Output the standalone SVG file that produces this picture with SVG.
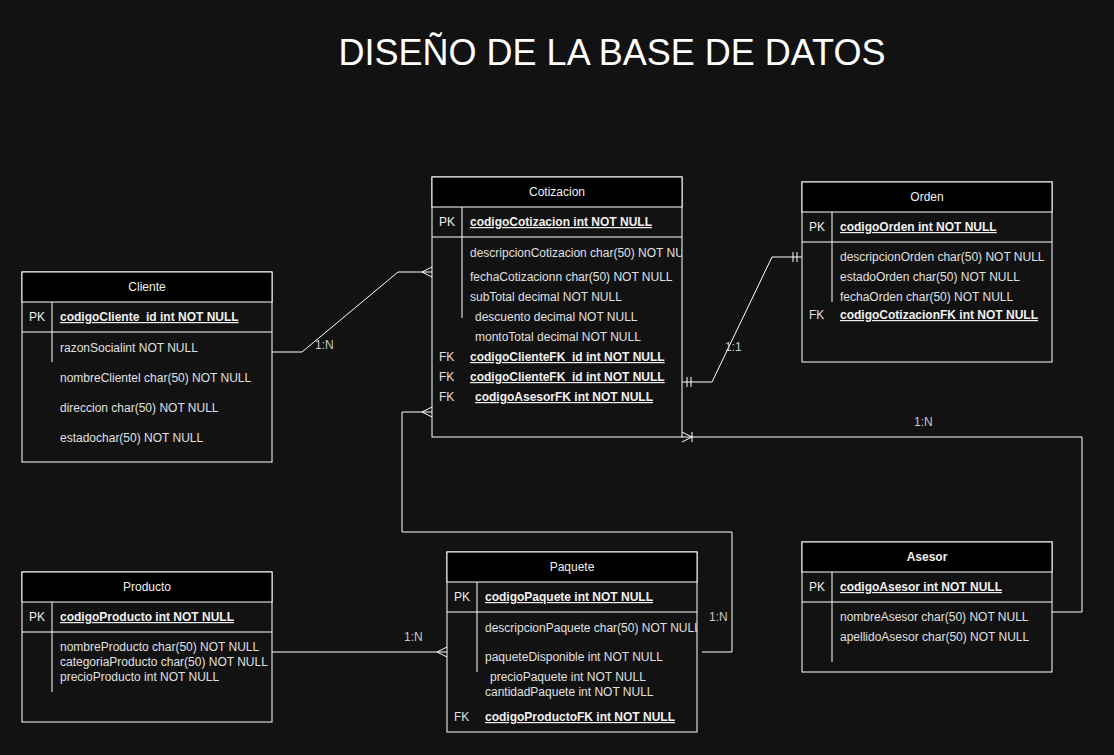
<svg xmlns="http://www.w3.org/2000/svg" width="1114" height="755" viewBox="0 0 1114 755">
<defs>
<style>
.bg{fill:#121212}
.box{fill:#121212;stroke:#ffffff;stroke-width:1}
.hdr{fill:#000000;stroke:#ffffff;stroke-width:1}
.ln{stroke:#ffffff;stroke-width:1;fill:none}
.t{font-family:"Liberation Sans",Arial,sans-serif;font-size:12px;fill:#e0e0e0}
.h{font-family:"Liberation Sans",Arial,sans-serif;font-size:12px;fill:#f0f0f0;text-anchor:middle}
.k{font-family:"Liberation Sans",Arial,sans-serif;font-size:12px;fill:#f0f0f0;font-weight:bold;text-decoration:underline}
.lbl{font-family:"Liberation Sans",Arial,sans-serif;font-size:12px;fill:#c8c8c8}
.title{font-family:"Liberation Sans",Arial,sans-serif;font-size:36px;fill:#ffffff;text-anchor:middle}
</style>
<clipPath id="clipCot"><rect x="432" y="237" width="250" height="200"/></clipPath>
<clipPath id="clipPaq"><rect x="447" y="612" width="250" height="120"/></clipPath>
</defs>
<rect class="bg" x="0" y="0" width="1114" height="755"/>
<text class="title" x="612" y="65">DISEÑO DE LA BASE DE DATOS</text>

<g id="connectors">
  <!-- Cliente -> Cotizacion -->
  <path class="ln" d="M272 352 L302 352 L398 272 L432 272"/>
  <path class="ln" d="M432 267 L422 272 L432 277"/>
  <text class="lbl" x="315" y="349">1:N</text>
  <!-- Cotizacion -> Orden -->
  <path class="ln" d="M682 382 L712 382 L772 257 L802 257"/>
  <path class="ln" d="M687 377 L687 387 M691 377 L691 387 M793 252 L793 262 M797 252 L797 262"/>
  <text class="lbl" x="725" y="351">1:1</text>
  <!-- Asesor -> Cotizacion -->
  <path class="ln" d="M1052 612 L1082 612 L1082 437 L682 437"/>
  <path class="ln" d="M682 432 L692 437 L682 442 M692 432 L692 442"/>
  <text class="lbl" x="914" y="426">1:N</text>
  <!-- Paquete -> Cotizacion -->
  <path class="ln" d="M702 652 L732 652 L732 532 L402 532 L402 412 L432 412"/>
  <path class="ln" d="M432 407 L422 412 L432 417"/>
  <text class="lbl" x="709" y="621">1:N</text>
  <!-- Producto -> Paquete -->
  <path class="ln" d="M272 652 L447 652"/>
  <path class="ln" d="M447 647 L437 652 L447 657"/>
  <text class="lbl" x="404" y="641">1:N</text>
</g>

<g id="cliente">
  <rect class="box" x="22" y="272" width="250" height="190"/>
  <rect class="hdr" x="22" y="272" width="250" height="30"/>
  <text class="h" x="147" y="291">Cliente</text>
  <line class="ln" x1="22" y1="332" x2="272" y2="332"/>
  <line class="ln" x1="52" y1="302" x2="52" y2="362"/>
  <text class="t" x="29" y="321" style="fill:#f0f0f0">PK</text>
  <text class="k" x="60" y="321">codigoCliente_id int NOT NULL</text>
  <text class="t" x="60" y="352">razonSocialint NOT NULL</text>
  <text class="t" x="60" y="382">nombreClientel char(50) NOT NULL</text>
  <text class="t" x="60" y="412">direccion char(50) NOT NULL</text>
  <text class="t" x="60" y="442">estadochar(50) NOT NULL</text>
</g>

<g id="cotizacion">
  <rect class="box" x="432" y="177" width="250" height="260"/>
  <rect class="hdr" x="432" y="177" width="250" height="30"/>
  <text class="h" x="557" y="196">Cotizacion</text>
  <line class="ln" x1="432" y1="237" x2="682" y2="237"/>
  <line class="ln" x1="462" y1="207" x2="462" y2="318"/>
  <text class="t" x="439" y="226" style="fill:#f0f0f0">PK</text>
  <text class="k" x="470" y="226">codigoCotizacion int NOT NULL</text>
  <g clip-path="url(#clipCot)">
    <text class="t" x="470" y="257">descripcionCotizacion char(50) NOT NULL</text>
  </g>
  <text class="t" x="470" y="281">fechaCotizacionn char(50) NOT NULL</text>
  <text class="t" x="470" y="301">subTotal decimal NOT NULL</text>
  <text class="t" x="475" y="321">descuento decimal NOT NULL</text>
  <text class="t" x="475" y="341">montoTotal decimal NOT NULL</text>
  <text class="t" x="439" y="361">FK</text>
  <text class="k" x="470" y="361">codigoClienteFK_id int NOT NULL</text>
  <text class="t" x="439" y="381">FK</text>
  <text class="k" x="470" y="381">codigoClienteFK_id int NOT NULL</text>
  <text class="t" x="439" y="401">FK</text>
  <text class="k" x="475" y="401">codigoAsesorFK  int NOT NULL</text>
</g>

<g id="orden">
  <rect class="box" x="802" y="182" width="250" height="180"/>
  <rect class="hdr" x="802" y="182" width="250" height="30"/>
  <text class="h" x="927" y="201">Orden</text>
  <line class="ln" x1="802" y1="242" x2="1052" y2="242"/>
  <line class="ln" x1="832" y1="212" x2="832" y2="302"/>
  <text class="t" x="809" y="231" style="fill:#f0f0f0">PK</text>
  <text class="k" x="840" y="231">codigoOrden int NOT NULL</text>
  <text class="t" x="840" y="261">descripcionOrden char(50) NOT NULL</text>
  <text class="t" x="840" y="281">estadoOrden char(50) NOT NULL</text>
  <text class="t" x="840" y="301">fechaOrden char(50) NOT NULL</text>
  <text class="t" x="809" y="319">FK</text>
  <text class="k" x="840" y="319">codigoCotizacionFK int NOT NULL</text>
</g>

<g id="producto">
  <rect class="box" x="22" y="572" width="250" height="150"/>
  <rect class="hdr" x="22" y="572" width="250" height="30"/>
  <text class="h" x="147" y="591">Producto</text>
  <line class="ln" x1="22" y1="632" x2="272" y2="632"/>
  <line class="ln" x1="52" y1="602" x2="52" y2="692"/>
  <text class="t" x="29" y="621" style="fill:#f0f0f0">PK</text>
  <text class="k" x="60" y="621">codigoProducto int NOT NULL</text>
  <text class="t" x="60" y="651">nombreProducto char(50) NOT NULL</text>
  <text class="t" x="60" y="666">categoriaProducto char(50) NOT NULL</text>
  <text class="t" x="60" y="681">precioProducto int NOT NULL</text>
</g>

<g id="paquete">
  <rect class="box" x="447" y="552" width="250" height="180"/>
  <rect class="hdr" x="447" y="552" width="250" height="30"/>
  <text class="h" x="572" y="571">Paquete</text>
  <line class="ln" x1="447" y1="612" x2="697" y2="612"/>
  <line class="ln" x1="477" y1="582" x2="477" y2="672"/>
  <text class="t" x="454" y="601" style="fill:#f0f0f0">PK</text>
  <text class="k" x="485" y="601">codigoPaquete int NOT NULL</text>
  <g clip-path="url(#clipPaq)">
    <text class="t" x="485" y="632">descripcionPaquete char(50) NOT NULL</text>
  </g>
  <text class="t" x="485" y="661">paqueteDisponible int NOT NULL</text>
  <text class="t" x="490" y="681">precioPaquete int NOT NULL</text>
  <text class="t" x="485" y="696">cantidadPaquete int NOT NULL</text>
  <text class="t" x="454" y="721">FK</text>
  <text class="k" x="485" y="721">codigoProductoFK  int NOT NULL</text>
</g>

<g id="asesor">
  <rect class="box" x="802" y="542" width="250" height="130"/>
  <rect class="hdr" x="802" y="542" width="250" height="30"/>
  <text class="h" x="927" y="561" style="font-weight:bold">Asesor</text>
  <line class="ln" x1="802" y1="602" x2="1052" y2="602"/>
  <line class="ln" x1="832" y1="572" x2="832" y2="662"/>
  <text class="t" x="809" y="591" style="fill:#f0f0f0">PK</text>
  <text class="k" x="840" y="591">codigoAsesor int NOT NULL</text>
  <text class="t" x="840" y="621">nombreAsesor char(50) NOT NULL</text>
  <text class="t" x="840" y="641">apellidoAsesor char(50) NOT NULL</text>
</g>
</svg>
